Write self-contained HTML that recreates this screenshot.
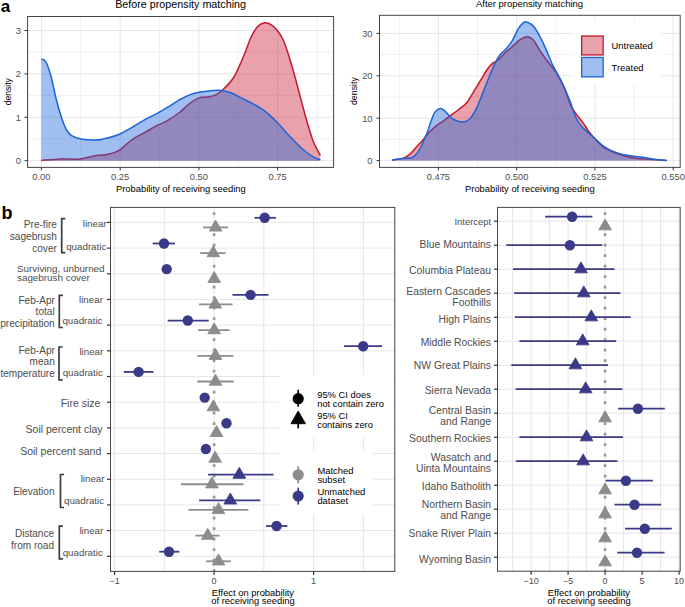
<!DOCTYPE html>
<html><head><meta charset="utf-8"><style>
html,body{margin:0;padding:0;background:#fff;}
svg{display:block;font-family:"Liberation Sans", sans-serif;}
</style></head><body>
<svg width="685" height="607" viewBox="0 0 685 607">
<rect width="685" height="607" fill="#fff"/>
<line x1="80.78" y1="16.50" x2="80.78" y2="167.40" stroke="#e6e6e6" stroke-width="0.6" />
<line x1="159.53" y1="16.50" x2="159.53" y2="167.40" stroke="#e6e6e6" stroke-width="0.6" />
<line x1="238.28" y1="16.50" x2="238.28" y2="167.40" stroke="#e6e6e6" stroke-width="0.6" />
<line x1="317.02" y1="16.50" x2="317.02" y2="167.40" stroke="#e6e6e6" stroke-width="0.6" />
<line x1="27.60" y1="139.00" x2="333.60" y2="139.00" stroke="#e6e6e6" stroke-width="0.6" />
<line x1="27.60" y1="95.60" x2="333.60" y2="95.60" stroke="#e6e6e6" stroke-width="0.6" />
<line x1="27.60" y1="52.20" x2="333.60" y2="52.20" stroke="#e6e6e6" stroke-width="0.6" />
<line x1="41.40" y1="16.50" x2="41.40" y2="167.40" stroke="#e6e6e6" stroke-width="1.0" />
<line x1="120.15" y1="16.50" x2="120.15" y2="167.40" stroke="#e6e6e6" stroke-width="1.0" />
<line x1="198.90" y1="16.50" x2="198.90" y2="167.40" stroke="#e6e6e6" stroke-width="1.0" />
<line x1="277.65" y1="16.50" x2="277.65" y2="167.40" stroke="#e6e6e6" stroke-width="1.0" />
<line x1="27.60" y1="160.70" x2="333.60" y2="160.70" stroke="#e6e6e6" stroke-width="1.0" />
<line x1="27.60" y1="117.30" x2="333.60" y2="117.30" stroke="#e6e6e6" stroke-width="1.0" />
<line x1="27.60" y1="73.90" x2="333.60" y2="73.90" stroke="#e6e6e6" stroke-width="1.0" />
<line x1="27.60" y1="30.50" x2="333.60" y2="30.50" stroke="#e6e6e6" stroke-width="1.0" />
<path d="M41.30,160.40 C44.53,160.15 54.48,159.10 60.70,158.90 C66.92,158.70 72.65,159.75 78.60,159.20 C84.55,158.65 91.30,156.45 96.40,155.60 C101.50,154.75 105.37,155.00 109.20,154.10 C113.03,153.20 115.57,152.63 119.40,150.20 C123.23,147.77 127.95,142.47 132.20,139.50 C136.45,136.53 140.65,134.78 144.90,132.40 C149.15,130.02 153.87,127.20 157.70,125.20 C161.53,123.20 164.18,122.60 167.90,120.40 C171.62,118.20 176.28,114.90 180.00,112.00 C183.72,109.10 187.02,105.35 190.20,103.00 C193.38,100.65 195.92,98.95 199.10,97.90 C202.28,96.85 206.53,97.20 209.30,96.70 C212.07,96.20 213.57,95.93 215.70,94.90 C217.83,93.87 219.12,93.40 222.10,90.50 C225.08,87.60 229.98,83.28 233.60,77.50 C237.22,71.72 240.98,62.30 243.80,55.80 C246.62,49.30 248.30,43.27 250.50,38.50 C252.70,33.73 254.67,29.82 257.00,27.20 C259.33,24.58 262.17,23.23 264.50,22.80 C266.83,22.37 268.83,23.27 271.00,24.60 C273.17,25.93 275.42,28.15 277.50,30.80 C279.58,33.45 281.58,36.22 283.50,40.50 C285.42,44.78 287.12,50.55 289.00,56.50 C290.88,62.45 292.13,66.53 294.80,76.20 C297.47,85.87 302.02,103.87 305.00,114.50 C307.98,125.13 310.15,133.20 312.70,140.00 C315.25,146.80 319.03,152.75 320.30,155.30 L320.30,160.70 L41.30,160.70 Z" fill="rgba(200,22,45,0.40)" stroke="none"/>
<path d="M41.30,160.40 C44.53,160.15 54.48,159.10 60.70,158.90 C66.92,158.70 72.65,159.75 78.60,159.20 C84.55,158.65 91.30,156.45 96.40,155.60 C101.50,154.75 105.37,155.00 109.20,154.10 C113.03,153.20 115.57,152.63 119.40,150.20 C123.23,147.77 127.95,142.47 132.20,139.50 C136.45,136.53 140.65,134.78 144.90,132.40 C149.15,130.02 153.87,127.20 157.70,125.20 C161.53,123.20 164.18,122.60 167.90,120.40 C171.62,118.20 176.28,114.90 180.00,112.00 C183.72,109.10 187.02,105.35 190.20,103.00 C193.38,100.65 195.92,98.95 199.10,97.90 C202.28,96.85 206.53,97.20 209.30,96.70 C212.07,96.20 213.57,95.93 215.70,94.90 C217.83,93.87 219.12,93.40 222.10,90.50 C225.08,87.60 229.98,83.28 233.60,77.50 C237.22,71.72 240.98,62.30 243.80,55.80 C246.62,49.30 248.30,43.27 250.50,38.50 C252.70,33.73 254.67,29.82 257.00,27.20 C259.33,24.58 262.17,23.23 264.50,22.80 C266.83,22.37 268.83,23.27 271.00,24.60 C273.17,25.93 275.42,28.15 277.50,30.80 C279.58,33.45 281.58,36.22 283.50,40.50 C285.42,44.78 287.12,50.55 289.00,56.50 C290.88,62.45 292.13,66.53 294.80,76.20 C297.47,85.87 302.02,103.87 305.00,114.50 C307.98,125.13 310.15,133.20 312.70,140.00 C315.25,146.80 319.03,152.75 320.30,155.30" fill="none" stroke="#c41a2e" stroke-width="1.5"/>
<path d="M41.30,59.70 C41.65,59.67 42.50,58.87 43.40,59.50 C44.30,60.13 45.43,60.72 46.70,63.50 C47.97,66.28 49.40,70.20 51.00,76.20 C52.60,82.20 54.55,92.60 56.30,99.50 C58.05,106.40 59.80,112.52 61.50,117.60 C63.20,122.68 64.75,126.97 66.50,130.00 C68.25,133.03 69.57,134.30 72.00,135.80 C74.43,137.30 77.03,138.30 81.10,139.00 C85.17,139.70 91.72,140.25 96.40,140.00 C101.08,139.75 105.37,138.47 109.20,137.50 C113.03,136.53 115.57,135.90 119.40,134.20 C123.23,132.50 127.95,129.73 132.20,127.30 C136.45,124.87 140.65,121.95 144.90,119.60 C149.15,117.25 153.45,115.53 157.70,113.20 C161.95,110.87 166.68,107.88 170.40,105.60 C174.12,103.32 176.70,101.33 180.00,99.50 C183.30,97.67 186.80,95.83 190.20,94.60 C193.60,93.37 196.57,92.78 200.40,92.10 C204.23,91.42 209.58,90.77 213.20,90.50 C216.82,90.23 219.13,90.12 222.10,90.50 C225.07,90.88 227.82,91.57 231.00,92.80 C234.18,94.03 237.80,96.20 241.20,97.90 C244.60,99.60 247.57,100.87 251.40,103.00 C255.23,105.13 259.93,107.50 264.20,110.70 C268.47,113.90 272.75,117.95 277.00,122.20 C281.25,126.45 285.45,131.73 289.70,136.20 C293.95,140.67 298.67,145.60 302.50,149.00 C306.33,152.40 309.73,154.82 312.70,156.60 C315.67,158.38 319.03,159.18 320.30,159.70 L320.30,160.70 L41.30,160.70 Z" fill="rgba(28,100,216,0.42)" stroke="none"/>
<path d="M41.30,59.70 C41.65,59.67 42.50,58.87 43.40,59.50 C44.30,60.13 45.43,60.72 46.70,63.50 C47.97,66.28 49.40,70.20 51.00,76.20 C52.60,82.20 54.55,92.60 56.30,99.50 C58.05,106.40 59.80,112.52 61.50,117.60 C63.20,122.68 64.75,126.97 66.50,130.00 C68.25,133.03 69.57,134.30 72.00,135.80 C74.43,137.30 77.03,138.30 81.10,139.00 C85.17,139.70 91.72,140.25 96.40,140.00 C101.08,139.75 105.37,138.47 109.20,137.50 C113.03,136.53 115.57,135.90 119.40,134.20 C123.23,132.50 127.95,129.73 132.20,127.30 C136.45,124.87 140.65,121.95 144.90,119.60 C149.15,117.25 153.45,115.53 157.70,113.20 C161.95,110.87 166.68,107.88 170.40,105.60 C174.12,103.32 176.70,101.33 180.00,99.50 C183.30,97.67 186.80,95.83 190.20,94.60 C193.60,93.37 196.57,92.78 200.40,92.10 C204.23,91.42 209.58,90.77 213.20,90.50 C216.82,90.23 219.13,90.12 222.10,90.50 C225.07,90.88 227.82,91.57 231.00,92.80 C234.18,94.03 237.80,96.20 241.20,97.90 C244.60,99.60 247.57,100.87 251.40,103.00 C255.23,105.13 259.93,107.50 264.20,110.70 C268.47,113.90 272.75,117.95 277.00,122.20 C281.25,126.45 285.45,131.73 289.70,136.20 C293.95,140.67 298.67,145.60 302.50,149.00 C306.33,152.40 309.73,154.82 312.70,156.60 C315.67,158.38 319.03,159.18 320.30,159.70" fill="none" stroke="#1c64d8" stroke-width="1.5"/>
<rect x="27.6" y="16.5" width="306.0" height="150.9" fill="none" stroke="#444444" stroke-width="1"/>
<line x1="24.50" y1="160.70" x2="27.60" y2="160.70" stroke="#333333" stroke-width="1" />
<text x="21.00" y="164.00" font-size="9.3" text-anchor="end" fill="#4d4d4d" font-weight="normal" >0</text>
<line x1="24.50" y1="117.30" x2="27.60" y2="117.30" stroke="#333333" stroke-width="1" />
<text x="21.00" y="120.60" font-size="9.3" text-anchor="end" fill="#4d4d4d" font-weight="normal" >1</text>
<line x1="24.50" y1="73.90" x2="27.60" y2="73.90" stroke="#333333" stroke-width="1" />
<text x="21.00" y="77.20" font-size="9.3" text-anchor="end" fill="#4d4d4d" font-weight="normal" >2</text>
<line x1="24.50" y1="30.50" x2="27.60" y2="30.50" stroke="#333333" stroke-width="1" />
<text x="21.00" y="33.80" font-size="9.3" text-anchor="end" fill="#4d4d4d" font-weight="normal" >3</text>
<line x1="41.40" y1="167.40" x2="41.40" y2="170.40" stroke="#333333" stroke-width="1" />
<text x="41.40" y="180.20" font-size="9.3" text-anchor="middle" fill="#4d4d4d" font-weight="normal" >0.00</text>
<line x1="120.15" y1="167.40" x2="120.15" y2="170.40" stroke="#333333" stroke-width="1" />
<text x="120.15" y="180.20" font-size="9.3" text-anchor="middle" fill="#4d4d4d" font-weight="normal" >0.25</text>
<line x1="198.90" y1="167.40" x2="198.90" y2="170.40" stroke="#333333" stroke-width="1" />
<text x="198.90" y="180.20" font-size="9.3" text-anchor="middle" fill="#4d4d4d" font-weight="normal" >0.50</text>
<line x1="277.65" y1="167.40" x2="277.65" y2="170.40" stroke="#333333" stroke-width="1" />
<text x="277.65" y="180.20" font-size="9.3" text-anchor="middle" fill="#4d4d4d" font-weight="normal" >0.75</text>
<text x="180.80" y="191.90" font-size="9.4" text-anchor="middle" fill="#000" font-weight="normal" >Probability of receiving seeding</text>
<text x="10.60" y="91.70" font-size="8.6" text-anchor="middle" fill="#000" font-weight="normal" transform="rotate(-90 10.6 91.7)">density</text>
<text x="180.60" y="7.90" font-size="10.75" text-anchor="middle" fill="#000" font-weight="normal" >Before propensity matching</text>
<line x1="399.27" y1="15.30" x2="399.27" y2="167.40" stroke="#e6e6e6" stroke-width="0.6" />
<line x1="477.54" y1="15.30" x2="477.54" y2="167.40" stroke="#e6e6e6" stroke-width="0.6" />
<line x1="555.80" y1="15.30" x2="555.80" y2="167.40" stroke="#e6e6e6" stroke-width="0.6" />
<line x1="634.07" y1="15.30" x2="634.07" y2="167.40" stroke="#e6e6e6" stroke-width="0.6" />
<line x1="379.50" y1="139.40" x2="680.20" y2="139.40" stroke="#e6e6e6" stroke-width="0.6" />
<line x1="379.50" y1="97.00" x2="680.20" y2="97.00" stroke="#e6e6e6" stroke-width="0.6" />
<line x1="379.50" y1="54.60" x2="680.20" y2="54.60" stroke="#e6e6e6" stroke-width="0.6" />
<line x1="438.40" y1="15.30" x2="438.40" y2="167.40" stroke="#e6e6e6" stroke-width="1.0" />
<line x1="516.67" y1="15.30" x2="516.67" y2="167.40" stroke="#e6e6e6" stroke-width="1.0" />
<line x1="594.94" y1="15.30" x2="594.94" y2="167.40" stroke="#e6e6e6" stroke-width="1.0" />
<line x1="673.21" y1="15.30" x2="673.21" y2="167.40" stroke="#e6e6e6" stroke-width="1.0" />
<line x1="379.50" y1="160.60" x2="680.20" y2="160.60" stroke="#e6e6e6" stroke-width="1.0" />
<line x1="379.50" y1="118.20" x2="680.20" y2="118.20" stroke="#e6e6e6" stroke-width="1.0" />
<line x1="379.50" y1="75.80" x2="680.20" y2="75.80" stroke="#e6e6e6" stroke-width="1.0" />
<line x1="379.50" y1="33.40" x2="680.20" y2="33.40" stroke="#e6e6e6" stroke-width="1.0" />
<path d="M392.20,160.10 C394.07,159.77 400.43,159.10 403.40,158.10 C406.37,157.10 407.82,155.97 410.00,154.10 C412.18,152.23 414.32,149.30 416.50,146.90 C418.68,144.50 420.90,142.22 423.10,139.70 C425.30,137.18 427.52,134.10 429.70,131.80 C431.88,129.50 434.02,127.65 436.20,125.90 C438.38,124.15 440.38,123.05 442.80,121.30 C445.22,119.55 448.07,117.37 450.70,115.40 C453.33,113.43 455.97,111.58 458.60,109.50 C461.23,107.42 464.13,105.63 466.50,102.90 C468.87,100.17 470.43,96.88 472.80,93.10 C475.17,89.32 478.40,84.00 480.70,80.20 C483.00,76.40 484.63,73.10 486.60,70.30 C488.57,67.50 490.68,65.03 492.50,63.40 C494.32,61.77 495.52,62.15 497.50,60.50 C499.48,58.85 501.93,55.82 504.40,53.50 C506.87,51.18 509.67,48.90 512.30,46.60 C514.93,44.30 517.73,41.35 520.20,39.70 C522.67,38.05 524.95,36.70 527.10,36.70 C529.25,36.70 530.95,37.38 533.10,39.70 C535.25,42.02 537.48,46.83 540.00,50.60 C542.52,54.37 545.48,58.65 548.20,62.30 C550.92,65.95 553.58,68.08 556.30,72.50 C559.02,76.92 562.10,83.35 564.50,88.80 C566.90,94.25 568.82,101.10 570.70,105.20 C572.58,109.30 573.77,110.50 575.80,113.40 C577.83,116.30 580.70,119.55 582.90,122.60 C585.10,125.65 586.95,128.98 589.00,131.70 C591.05,134.42 592.80,136.33 595.20,138.90 C597.60,141.47 600.33,144.88 603.40,147.10 C606.47,149.32 609.87,150.67 613.60,152.20 C617.33,153.73 622.05,155.28 625.80,156.30 C629.55,157.32 632.35,157.80 636.10,158.30 C639.85,158.80 643.20,158.95 648.30,159.30 C653.40,159.65 663.63,160.22 666.70,160.40 L666.70,160.60 L392.20,160.60 Z" fill="rgba(200,22,45,0.40)" stroke="none"/>
<path d="M392.20,160.10 C394.07,159.77 400.43,159.10 403.40,158.10 C406.37,157.10 407.82,155.97 410.00,154.10 C412.18,152.23 414.32,149.30 416.50,146.90 C418.68,144.50 420.90,142.22 423.10,139.70 C425.30,137.18 427.52,134.10 429.70,131.80 C431.88,129.50 434.02,127.65 436.20,125.90 C438.38,124.15 440.38,123.05 442.80,121.30 C445.22,119.55 448.07,117.37 450.70,115.40 C453.33,113.43 455.97,111.58 458.60,109.50 C461.23,107.42 464.13,105.63 466.50,102.90 C468.87,100.17 470.43,96.88 472.80,93.10 C475.17,89.32 478.40,84.00 480.70,80.20 C483.00,76.40 484.63,73.10 486.60,70.30 C488.57,67.50 490.68,65.03 492.50,63.40 C494.32,61.77 495.52,62.15 497.50,60.50 C499.48,58.85 501.93,55.82 504.40,53.50 C506.87,51.18 509.67,48.90 512.30,46.60 C514.93,44.30 517.73,41.35 520.20,39.70 C522.67,38.05 524.95,36.70 527.10,36.70 C529.25,36.70 530.95,37.38 533.10,39.70 C535.25,42.02 537.48,46.83 540.00,50.60 C542.52,54.37 545.48,58.65 548.20,62.30 C550.92,65.95 553.58,68.08 556.30,72.50 C559.02,76.92 562.10,83.35 564.50,88.80 C566.90,94.25 568.82,101.10 570.70,105.20 C572.58,109.30 573.77,110.50 575.80,113.40 C577.83,116.30 580.70,119.55 582.90,122.60 C585.10,125.65 586.95,128.98 589.00,131.70 C591.05,134.42 592.80,136.33 595.20,138.90 C597.60,141.47 600.33,144.88 603.40,147.10 C606.47,149.32 609.87,150.67 613.60,152.20 C617.33,153.73 622.05,155.28 625.80,156.30 C629.55,157.32 632.35,157.80 636.10,158.30 C639.85,158.80 643.20,158.95 648.30,159.30 C653.40,159.65 663.63,160.22 666.70,160.40" fill="none" stroke="#c41a2e" stroke-width="1.5"/>
<path d="M392.20,160.10 C393.18,159.93 396.02,159.40 398.10,159.10 C400.18,158.80 402.50,158.52 404.70,158.30 C406.90,158.08 409.55,158.28 411.30,157.80 C413.05,157.32 413.88,156.67 415.20,155.40 C416.52,154.13 417.88,152.38 419.20,150.20 C420.52,148.02 421.80,145.15 423.10,142.30 C424.40,139.45 425.68,136.60 427.00,133.10 C428.32,129.60 429.68,124.80 431.00,121.30 C432.32,117.80 433.37,114.25 434.90,112.10 C436.43,109.95 438.55,108.62 440.20,108.40 C441.85,108.18 443.27,109.53 444.80,110.80 C446.33,112.07 447.77,114.47 449.40,116.00 C451.03,117.53 452.63,119.02 454.60,120.00 C456.57,120.98 459.22,121.68 461.20,121.90 C463.18,122.12 464.90,121.98 466.50,121.30 C468.10,120.62 469.10,120.03 470.80,117.80 C472.50,115.57 474.72,112.02 476.70,107.90 C478.68,103.78 480.72,98.05 482.70,93.10 C484.68,88.15 486.63,82.98 488.60,78.20 C490.57,73.42 492.68,68.18 494.50,64.40 C496.32,60.62 497.52,58.13 499.50,55.50 C501.48,52.87 504.27,51.07 506.40,48.60 C508.53,46.13 510.33,44.00 512.30,40.70 C514.27,37.40 516.38,31.77 518.20,28.80 C520.02,25.83 521.82,24.05 523.20,22.90 C524.58,21.75 525.02,21.57 526.50,21.90 C527.98,22.23 530.18,23.08 532.10,24.90 C534.02,26.72 536.03,29.52 538.00,32.80 C539.97,36.08 541.92,40.32 543.90,44.60 C545.88,48.88 548.50,55.22 549.90,58.50 C551.30,61.78 550.88,61.47 552.30,64.30 C553.72,67.13 556.37,71.58 558.40,75.50 C560.43,79.42 562.45,83.20 564.50,87.80 C566.55,92.40 568.65,97.82 570.70,103.10 C572.75,108.38 574.77,115.40 576.80,119.50 C578.83,123.60 580.87,125.38 582.90,127.70 C584.93,130.02 586.95,131.53 589.00,133.40 C591.05,135.27 592.80,136.78 595.20,138.90 C597.60,141.02 600.68,144.15 603.40,146.10 C606.12,148.05 608.45,149.25 611.50,150.60 C614.55,151.95 617.95,153.25 621.70,154.20 C625.45,155.15 630.58,155.78 634.00,156.30 C637.42,156.82 638.80,156.80 642.20,157.30 C645.60,157.80 650.32,158.78 654.40,159.30 C658.48,159.82 664.65,160.22 666.70,160.40 L666.70,160.60 L392.20,160.60 Z" fill="rgba(28,100,216,0.42)" stroke="none"/>
<path d="M392.20,160.10 C393.18,159.93 396.02,159.40 398.10,159.10 C400.18,158.80 402.50,158.52 404.70,158.30 C406.90,158.08 409.55,158.28 411.30,157.80 C413.05,157.32 413.88,156.67 415.20,155.40 C416.52,154.13 417.88,152.38 419.20,150.20 C420.52,148.02 421.80,145.15 423.10,142.30 C424.40,139.45 425.68,136.60 427.00,133.10 C428.32,129.60 429.68,124.80 431.00,121.30 C432.32,117.80 433.37,114.25 434.90,112.10 C436.43,109.95 438.55,108.62 440.20,108.40 C441.85,108.18 443.27,109.53 444.80,110.80 C446.33,112.07 447.77,114.47 449.40,116.00 C451.03,117.53 452.63,119.02 454.60,120.00 C456.57,120.98 459.22,121.68 461.20,121.90 C463.18,122.12 464.90,121.98 466.50,121.30 C468.10,120.62 469.10,120.03 470.80,117.80 C472.50,115.57 474.72,112.02 476.70,107.90 C478.68,103.78 480.72,98.05 482.70,93.10 C484.68,88.15 486.63,82.98 488.60,78.20 C490.57,73.42 492.68,68.18 494.50,64.40 C496.32,60.62 497.52,58.13 499.50,55.50 C501.48,52.87 504.27,51.07 506.40,48.60 C508.53,46.13 510.33,44.00 512.30,40.70 C514.27,37.40 516.38,31.77 518.20,28.80 C520.02,25.83 521.82,24.05 523.20,22.90 C524.58,21.75 525.02,21.57 526.50,21.90 C527.98,22.23 530.18,23.08 532.10,24.90 C534.02,26.72 536.03,29.52 538.00,32.80 C539.97,36.08 541.92,40.32 543.90,44.60 C545.88,48.88 548.50,55.22 549.90,58.50 C551.30,61.78 550.88,61.47 552.30,64.30 C553.72,67.13 556.37,71.58 558.40,75.50 C560.43,79.42 562.45,83.20 564.50,87.80 C566.55,92.40 568.65,97.82 570.70,103.10 C572.75,108.38 574.77,115.40 576.80,119.50 C578.83,123.60 580.87,125.38 582.90,127.70 C584.93,130.02 586.95,131.53 589.00,133.40 C591.05,135.27 592.80,136.78 595.20,138.90 C597.60,141.02 600.68,144.15 603.40,146.10 C606.12,148.05 608.45,149.25 611.50,150.60 C614.55,151.95 617.95,153.25 621.70,154.20 C625.45,155.15 630.58,155.78 634.00,156.30 C637.42,156.82 638.80,156.80 642.20,157.30 C645.60,157.80 650.32,158.78 654.40,159.30 C658.48,159.82 664.65,160.22 666.70,160.40" fill="none" stroke="#1c64d8" stroke-width="1.5"/>
<rect x="573.1" y="21.4" width="88.2" height="63.1" fill="#fff"/>
<rect x="581.65" y="36.05" width="21.5" height="18.9" fill="rgba(200,22,45,0.40)" stroke="#c41a2e" stroke-width="1.3"/>
<rect x="581.65" y="57.45" width="21.5" height="19.4" fill="rgba(28,100,216,0.42)" stroke="#1c64d8" stroke-width="1.3"/>
<text x="611.60" y="49.40" font-size="9.4" text-anchor="start" fill="#000" font-weight="normal" >Untreated</text>
<text x="611.60" y="70.80" font-size="9.4" text-anchor="start" fill="#000" font-weight="normal" >Treated</text>
<rect x="379.5" y="15.3" width="300.70000000000005" height="152.1" fill="none" stroke="#444444" stroke-width="1"/>
<line x1="376.50" y1="160.60" x2="379.50" y2="160.60" stroke="#333333" stroke-width="1" />
<text x="372.50" y="163.90" font-size="9.3" text-anchor="end" fill="#4d4d4d" font-weight="normal" >0</text>
<line x1="376.50" y1="118.20" x2="379.50" y2="118.20" stroke="#333333" stroke-width="1" />
<text x="372.50" y="121.50" font-size="9.3" text-anchor="end" fill="#4d4d4d" font-weight="normal" >10</text>
<line x1="376.50" y1="75.80" x2="379.50" y2="75.80" stroke="#333333" stroke-width="1" />
<text x="372.50" y="79.10" font-size="9.3" text-anchor="end" fill="#4d4d4d" font-weight="normal" >20</text>
<line x1="376.50" y1="33.40" x2="379.50" y2="33.40" stroke="#333333" stroke-width="1" />
<text x="372.50" y="36.70" font-size="9.3" text-anchor="end" fill="#4d4d4d" font-weight="normal" >30</text>
<line x1="438.40" y1="167.40" x2="438.40" y2="170.40" stroke="#333333" stroke-width="1" />
<text x="438.40" y="180.20" font-size="9.3" text-anchor="middle" fill="#4d4d4d" font-weight="normal" >0.475</text>
<line x1="516.67" y1="167.40" x2="516.67" y2="170.40" stroke="#333333" stroke-width="1" />
<text x="516.67" y="180.20" font-size="9.3" text-anchor="middle" fill="#4d4d4d" font-weight="normal" >0.500</text>
<line x1="594.94" y1="167.40" x2="594.94" y2="170.40" stroke="#333333" stroke-width="1" />
<text x="594.94" y="180.20" font-size="9.3" text-anchor="middle" fill="#4d4d4d" font-weight="normal" >0.525</text>
<line x1="673.21" y1="167.40" x2="673.21" y2="170.40" stroke="#333333" stroke-width="1" />
<text x="673.21" y="180.20" font-size="9.3" text-anchor="middle" fill="#4d4d4d" font-weight="normal" >0.550</text>
<text x="529.90" y="191.90" font-size="9.4" text-anchor="middle" fill="#000" font-weight="normal" >Probability of receiving seeding</text>
<text x="357.00" y="91.10" font-size="8.8" text-anchor="middle" fill="#000" font-weight="normal" transform="rotate(-90 357.0 91.1)">density</text>
<text x="529.50" y="7.30" font-size="9.45" text-anchor="middle" fill="#000" font-weight="normal" >After propensity matching</text>
<text x="0.70" y="11.90" font-size="17" text-anchor="start" fill="#000" font-weight="bold" >a</text>
<text x="1.60" y="219.10" font-size="18" text-anchor="start" fill="#000" font-weight="bold" >b</text>
<line x1="114.60" y1="207.40" x2="114.60" y2="571.40" stroke="#e6e6e6" stroke-width="1.0" />
<line x1="164.35" y1="207.40" x2="164.35" y2="571.40" stroke="#e6e6e6" stroke-width="1.0" />
<line x1="214.10" y1="207.40" x2="214.10" y2="571.40" stroke="#e6e6e6" stroke-width="1.0" />
<line x1="263.85" y1="207.40" x2="263.85" y2="571.40" stroke="#e6e6e6" stroke-width="1.0" />
<line x1="313.60" y1="207.40" x2="313.60" y2="571.40" stroke="#e6e6e6" stroke-width="1.0" />
<line x1="363.35" y1="207.40" x2="363.35" y2="571.40" stroke="#e6e6e6" stroke-width="1.0" />
<line x1="110.50" y1="222.40" x2="394.80" y2="222.40" stroke="#e6e6e6" stroke-width="1.0" />
<line x1="110.50" y1="248.09" x2="394.80" y2="248.09" stroke="#e6e6e6" stroke-width="1.0" />
<line x1="110.50" y1="273.77" x2="394.80" y2="273.77" stroke="#e6e6e6" stroke-width="1.0" />
<line x1="110.50" y1="299.45" x2="394.80" y2="299.45" stroke="#e6e6e6" stroke-width="1.0" />
<line x1="110.50" y1="325.14" x2="394.80" y2="325.14" stroke="#e6e6e6" stroke-width="1.0" />
<line x1="110.50" y1="350.82" x2="394.80" y2="350.82" stroke="#e6e6e6" stroke-width="1.0" />
<line x1="110.50" y1="376.51" x2="394.80" y2="376.51" stroke="#e6e6e6" stroke-width="1.0" />
<line x1="110.50" y1="402.19" x2="394.80" y2="402.19" stroke="#e6e6e6" stroke-width="1.0" />
<line x1="110.50" y1="427.88" x2="394.80" y2="427.88" stroke="#e6e6e6" stroke-width="1.0" />
<line x1="110.50" y1="453.56" x2="394.80" y2="453.56" stroke="#e6e6e6" stroke-width="1.0" />
<line x1="110.50" y1="479.25" x2="394.80" y2="479.25" stroke="#e6e6e6" stroke-width="1.0" />
<line x1="110.50" y1="504.93" x2="394.80" y2="504.93" stroke="#e6e6e6" stroke-width="1.0" />
<line x1="110.50" y1="530.62" x2="394.80" y2="530.62" stroke="#e6e6e6" stroke-width="1.0" />
<line x1="110.50" y1="556.30" x2="394.80" y2="556.30" stroke="#e6e6e6" stroke-width="1.0" />
<rect x="279" y="374.6" width="114" height="63.1" fill="#fff"/>
<rect x="279" y="450.4" width="94" height="63.4" fill="#fff"/>
<line x1="214.10" y1="207.40" x2="214.10" y2="571.40" stroke="#999" stroke-width="2.7" stroke-dasharray="2.6 7.9" stroke-dashoffset="5.6"/>
<line x1="203.10" y1="227.40" x2="228.20" y2="227.40" stroke="#8c8c8c" stroke-width="1.8" />
<polygon points="215.60,220.09 221.93,231.05 209.27,231.05" fill="#8c8c8c" stroke="#8c8c8c" stroke-width="0.9" stroke-linejoin="round"/>
<line x1="254.50" y1="217.80" x2="275.90" y2="217.80" stroke="#3a3a88" stroke-width="1.8" />
<circle cx="264.70" cy="217.80" r="5.2" fill="#3a3a88"/>
<line x1="200.20" y1="253.09" x2="225.50" y2="253.09" stroke="#8c8c8c" stroke-width="1.8" />
<polygon points="213.30,245.78 219.63,256.74 206.97,256.74" fill="#8c8c8c" stroke="#8c8c8c" stroke-width="0.9" stroke-linejoin="round"/>
<line x1="152.60" y1="243.49" x2="174.90" y2="243.49" stroke="#3a3a88" stroke-width="1.8" />
<circle cx="164.00" cy="243.49" r="5.2" fill="#3a3a88"/>
<polygon points="214.20,271.46 220.53,282.42 207.87,282.42" fill="#8c8c8c" stroke="#8c8c8c" stroke-width="0.9" stroke-linejoin="round"/>
<circle cx="166.70" cy="269.17" r="5.2" fill="#3a3a88"/>
<line x1="199.10" y1="304.45" x2="232.60" y2="304.45" stroke="#8c8c8c" stroke-width="1.8" />
<polygon points="215.20,297.15 221.53,308.11 208.87,308.11" fill="#8c8c8c" stroke="#8c8c8c" stroke-width="0.9" stroke-linejoin="round"/>
<line x1="232.50" y1="294.85" x2="268.50" y2="294.85" stroke="#3a3a88" stroke-width="1.8" />
<circle cx="250.60" cy="294.85" r="5.2" fill="#3a3a88"/>
<line x1="198.10" y1="330.14" x2="229.60" y2="330.14" stroke="#8c8c8c" stroke-width="1.8" />
<polygon points="214.20,322.83 220.53,333.79 207.87,333.79" fill="#8c8c8c" stroke="#8c8c8c" stroke-width="0.9" stroke-linejoin="round"/>
<line x1="167.70" y1="320.54" x2="208.70" y2="320.54" stroke="#3a3a88" stroke-width="1.8" />
<circle cx="187.80" cy="320.54" r="5.2" fill="#3a3a88"/>
<line x1="197.30" y1="355.82" x2="233.30" y2="355.82" stroke="#8c8c8c" stroke-width="1.8" />
<polygon points="215.50,348.52 221.83,359.48 209.17,359.48" fill="#8c8c8c" stroke="#8c8c8c" stroke-width="0.9" stroke-linejoin="round"/>
<line x1="344.00" y1="346.22" x2="382.00" y2="346.22" stroke="#3a3a88" stroke-width="1.8" />
<circle cx="363.20" cy="346.22" r="5.2" fill="#3a3a88"/>
<line x1="197.30" y1="381.51" x2="233.80" y2="381.51" stroke="#8c8c8c" stroke-width="1.8" />
<polygon points="215.50,374.20 221.83,385.16 209.17,385.16" fill="#8c8c8c" stroke="#8c8c8c" stroke-width="0.9" stroke-linejoin="round"/>
<line x1="123.80" y1="371.91" x2="153.50" y2="371.91" stroke="#3a3a88" stroke-width="1.8" />
<circle cx="138.60" cy="371.91" r="5.2" fill="#3a3a88"/>
<polygon points="213.40,399.89 219.73,410.85 207.07,410.85" fill="#8c8c8c" stroke="#8c8c8c" stroke-width="0.9" stroke-linejoin="round"/>
<circle cx="204.70" cy="397.59" r="5.2" fill="#3a3a88"/>
<polygon points="216.50,425.57 222.83,436.53 210.17,436.53" fill="#8c8c8c" stroke="#8c8c8c" stroke-width="0.9" stroke-linejoin="round"/>
<circle cx="226.50" cy="423.28" r="5.2" fill="#3a3a88"/>
<polygon points="215.20,451.26 221.53,462.22 208.87,462.22" fill="#8c8c8c" stroke="#8c8c8c" stroke-width="0.9" stroke-linejoin="round"/>
<circle cx="205.90" cy="448.96" r="5.2" fill="#3a3a88"/>
<line x1="181.00" y1="484.25" x2="243.40" y2="484.25" stroke="#8c8c8c" stroke-width="1.8" />
<polygon points="211.90,476.94 218.23,487.90 205.57,487.90" fill="#8c8c8c" stroke="#8c8c8c" stroke-width="0.9" stroke-linejoin="round"/>
<line x1="208.10" y1="474.65" x2="273.50" y2="474.65" stroke="#3a3a88" stroke-width="1.8" />
<polygon points="239.30,467.34 245.63,478.30 232.97,478.30" fill="#3a3a88" stroke="#3a3a88" stroke-width="0.9" stroke-linejoin="round"/>
<line x1="188.50" y1="509.93" x2="248.40" y2="509.93" stroke="#8c8c8c" stroke-width="1.8" />
<polygon points="218.50,502.63 224.83,513.59 212.17,513.59" fill="#8c8c8c" stroke="#8c8c8c" stroke-width="0.9" stroke-linejoin="round"/>
<line x1="199.10" y1="500.33" x2="260.40" y2="500.33" stroke="#3a3a88" stroke-width="1.8" />
<polygon points="230.30,493.03 236.63,503.99 223.97,503.99" fill="#3a3a88" stroke="#3a3a88" stroke-width="0.9" stroke-linejoin="round"/>
<line x1="195.30" y1="535.62" x2="219.50" y2="535.62" stroke="#8c8c8c" stroke-width="1.8" />
<polygon points="207.70,528.31 214.03,539.27 201.37,539.27" fill="#8c8c8c" stroke="#8c8c8c" stroke-width="0.9" stroke-linejoin="round"/>
<line x1="266.00" y1="526.02" x2="287.40" y2="526.02" stroke="#3a3a88" stroke-width="1.8" />
<circle cx="276.60" cy="526.02" r="5.2" fill="#3a3a88"/>
<line x1="206.10" y1="561.30" x2="230.80" y2="561.30" stroke="#8c8c8c" stroke-width="1.8" />
<polygon points="218.50,554.00 224.83,564.96 212.17,564.96" fill="#8c8c8c" stroke="#8c8c8c" stroke-width="0.9" stroke-linejoin="round"/>
<line x1="159.20" y1="551.70" x2="179.40" y2="551.70" stroke="#3a3a88" stroke-width="1.8" />
<circle cx="169.00" cy="551.70" r="5.2" fill="#3a3a88"/>
<rect x="110.5" y="207.4" width="284.3" height="364.0" fill="none" stroke="#444444" stroke-width="1"/>
<line x1="107.00" y1="222.40" x2="110.50" y2="222.40" stroke="#333333" stroke-width="1.2" />
<line x1="107.00" y1="248.09" x2="110.50" y2="248.09" stroke="#333333" stroke-width="1.2" />
<line x1="107.00" y1="273.77" x2="110.50" y2="273.77" stroke="#333333" stroke-width="1.2" />
<line x1="107.00" y1="299.45" x2="110.50" y2="299.45" stroke="#333333" stroke-width="1.2" />
<line x1="107.00" y1="325.14" x2="110.50" y2="325.14" stroke="#333333" stroke-width="1.2" />
<line x1="107.00" y1="350.82" x2="110.50" y2="350.82" stroke="#333333" stroke-width="1.2" />
<line x1="107.00" y1="376.51" x2="110.50" y2="376.51" stroke="#333333" stroke-width="1.2" />
<line x1="107.00" y1="402.19" x2="110.50" y2="402.19" stroke="#333333" stroke-width="1.2" />
<line x1="107.00" y1="427.88" x2="110.50" y2="427.88" stroke="#333333" stroke-width="1.2" />
<line x1="107.00" y1="453.56" x2="110.50" y2="453.56" stroke="#333333" stroke-width="1.2" />
<line x1="107.00" y1="479.25" x2="110.50" y2="479.25" stroke="#333333" stroke-width="1.2" />
<line x1="107.00" y1="504.93" x2="110.50" y2="504.93" stroke="#333333" stroke-width="1.2" />
<line x1="107.00" y1="530.62" x2="110.50" y2="530.62" stroke="#333333" stroke-width="1.2" />
<line x1="107.00" y1="556.30" x2="110.50" y2="556.30" stroke="#333333" stroke-width="1.2" />
<line x1="114.60" y1="571.40" x2="114.60" y2="574.90" stroke="#333333" stroke-width="1.2" />
<text x="114.60" y="584.40" font-size="9.0" text-anchor="middle" fill="#4d4d4d" font-weight="normal" >−1</text>
<line x1="214.10" y1="571.40" x2="214.10" y2="574.90" stroke="#333333" stroke-width="1.2" />
<text x="214.10" y="584.40" font-size="9.0" text-anchor="middle" fill="#4d4d4d" font-weight="normal" >0</text>
<line x1="313.60" y1="571.40" x2="313.60" y2="574.90" stroke="#333333" stroke-width="1.2" />
<text x="313.60" y="584.40" font-size="9.0" text-anchor="middle" fill="#4d4d4d" font-weight="normal" >1</text>
<text x="252.95" y="595.60" font-size="9.4" text-anchor="middle" fill="#000" font-weight="normal" >Effect on probability</text>
<text x="252.95" y="604.40" font-size="9.4" text-anchor="middle" fill="#000" font-weight="normal" >of receiving seeding</text>
<line x1="298.20" y1="389.80" x2="298.20" y2="406.70" stroke="#000" stroke-width="1.7" />
<circle cx="298.20" cy="398.70" r="5.6" fill="#000"/>
<line x1="298.20" y1="411.80" x2="298.20" y2="428.40" stroke="#000" stroke-width="1.7" />
<polygon points="298.20,411.10 305.47,423.70 290.93,423.70" fill="#000" stroke="#000" stroke-width="0.9" stroke-linejoin="round"/>
<text x="317.20" y="397.50" font-size="9.4" text-anchor="start" fill="#000" font-weight="normal" >95% CI does</text>
<text x="317.20" y="406.70" font-size="9.4" text-anchor="start" fill="#000" font-weight="normal" >not contain zero</text>
<text x="317.20" y="418.70" font-size="9.4" text-anchor="start" fill="#000" font-weight="normal" >95% CI</text>
<text x="317.20" y="427.60" font-size="9.4" text-anchor="start" fill="#000" font-weight="normal" >contains zero</text>
<line x1="298.20" y1="466.40" x2="298.20" y2="483.30" stroke="#8c8c8c" stroke-width="1.7" />
<circle cx="298.20" cy="474.80" r="5.6" fill="#8c8c8c"/>
<line x1="298.20" y1="487.60" x2="298.20" y2="504.60" stroke="#3a3a88" stroke-width="1.7" />
<circle cx="298.20" cy="496.10" r="5.6" fill="#3a3a88"/>
<text x="317.40" y="473.70" font-size="9.4" text-anchor="start" fill="#000" font-weight="normal" >Matched</text>
<text x="317.40" y="482.50" font-size="9.4" text-anchor="start" fill="#000" font-weight="normal" >subset</text>
<text x="317.40" y="495.00" font-size="9.4" text-anchor="start" fill="#000" font-weight="normal" >Unmatched</text>
<text x="317.40" y="503.70" font-size="9.4" text-anchor="start" fill="#000" font-weight="normal" >dataset</text>
<text x="56.90" y="227.60" font-size="10.1" text-anchor="end" fill="#4d4d4d" font-weight="normal" >Pre-fire</text>
<text x="56.90" y="239.60" font-size="10.1" text-anchor="end" fill="#4d4d4d" font-weight="normal" >sagebrush</text>
<text x="56.90" y="251.50" font-size="10.1" text-anchor="end" fill="#4d4d4d" font-weight="normal" >cover</text>
<text x="106.60" y="227.30" font-size="9.75" text-anchor="end" fill="#4d4d4d" font-weight="normal" >linear</text>
<text x="106.30" y="249.80" font-size="9.75" text-anchor="end" fill="#4d4d4d" font-weight="normal" >quadratic</text>
<text x="17.00" y="272.20" font-size="9.85" text-anchor="start" fill="#4d4d4d" font-weight="normal" >Surviving, unburned</text>
<text x="17.00" y="280.80" font-size="9.85" text-anchor="start" fill="#4d4d4d" font-weight="normal" >sagebrush cover</text>
<text x="54.90" y="303.50" font-size="10.1" text-anchor="end" fill="#4d4d4d" font-weight="normal" >Feb-Apr</text>
<text x="54.70" y="314.80" font-size="10.1" text-anchor="end" fill="#4d4d4d" font-weight="normal" >total</text>
<text x="54.70" y="326.70" font-size="10.1" text-anchor="end" fill="#4d4d4d" font-weight="normal" >precipitation</text>
<text x="102.90" y="303.00" font-size="9.75" text-anchor="end" fill="#4d4d4d" font-weight="normal" >linear</text>
<text x="102.50" y="324.40" font-size="9.75" text-anchor="end" fill="#4d4d4d" font-weight="normal" >quadratic</text>
<text x="54.90" y="353.50" font-size="10.1" text-anchor="end" fill="#4d4d4d" font-weight="normal" >Feb-Apr</text>
<text x="54.80" y="364.70" font-size="10.1" text-anchor="end" fill="#4d4d4d" font-weight="normal" >mean</text>
<text x="54.80" y="376.60" font-size="10.1" text-anchor="end" fill="#4d4d4d" font-weight="normal" >temperature</text>
<text x="103.30" y="354.70" font-size="9.75" text-anchor="end" fill="#4d4d4d" font-weight="normal" >linear</text>
<text x="102.80" y="376.10" font-size="9.75" text-anchor="end" fill="#4d4d4d" font-weight="normal" >quadratic</text>
<text x="100.40" y="406.80" font-size="10.5" text-anchor="end" fill="#4d4d4d" font-weight="normal" >Fire size</text>
<text x="102.60" y="432.80" font-size="10.5" text-anchor="end" fill="#4d4d4d" font-weight="normal" >Soil percent clay</text>
<text x="101.30" y="454.50" font-size="10.5" text-anchor="end" fill="#4d4d4d" font-weight="normal" >Soil percent sand</text>
<text x="54.50" y="495.10" font-size="10.05" text-anchor="end" fill="#4d4d4d" font-weight="normal" >Elevation</text>
<text x="104.50" y="481.90" font-size="9.75" text-anchor="end" fill="#4d4d4d" font-weight="normal" >linear</text>
<text x="104.10" y="504.20" font-size="9.75" text-anchor="end" fill="#4d4d4d" font-weight="normal" >quadratic</text>
<text x="54.00" y="537.10" font-size="10.05" text-anchor="end" fill="#4d4d4d" font-weight="normal" >Distance</text>
<text x="54.00" y="548.80" font-size="10.05" text-anchor="end" fill="#4d4d4d" font-weight="normal" >from road</text>
<text x="103.30" y="534.30" font-size="9.75" text-anchor="end" fill="#4d4d4d" font-weight="normal" >linear</text>
<text x="102.80" y="555.70" font-size="9.75" text-anchor="end" fill="#4d4d4d" font-weight="normal" >quadratic</text>
<path d="M65.30,218.70 H61.70 V252.60 H65.30" fill="none" stroke="#3d3d3d" stroke-width="1.7"/>
<path d="M62.90,295.30 H59.30 V327.50 H62.90" fill="none" stroke="#3d3d3d" stroke-width="1.7"/>
<path d="M62.60,347.00 H59.00 V379.90 H62.60" fill="none" stroke="#3d3d3d" stroke-width="1.7"/>
<path d="M64.10,474.50 H60.50 V507.50 H64.10" fill="none" stroke="#3d3d3d" stroke-width="1.7"/>
<path d="M62.90,526.20 H59.30 V558.90 H62.90" fill="none" stroke="#3d3d3d" stroke-width="1.7"/>
<line x1="512.60" y1="207.40" x2="512.60" y2="571.20" stroke="#e6e6e6" stroke-width="1.0" />
<line x1="531.10" y1="207.40" x2="531.10" y2="571.20" stroke="#e6e6e6" stroke-width="1.0" />
<line x1="549.60" y1="207.40" x2="549.60" y2="571.20" stroke="#e6e6e6" stroke-width="1.0" />
<line x1="568.10" y1="207.40" x2="568.10" y2="571.20" stroke="#e6e6e6" stroke-width="1.0" />
<line x1="586.60" y1="207.40" x2="586.60" y2="571.20" stroke="#e6e6e6" stroke-width="1.0" />
<line x1="605.10" y1="207.40" x2="605.10" y2="571.20" stroke="#e6e6e6" stroke-width="1.0" />
<line x1="623.60" y1="207.40" x2="623.60" y2="571.20" stroke="#e6e6e6" stroke-width="1.0" />
<line x1="642.10" y1="207.40" x2="642.10" y2="571.20" stroke="#e6e6e6" stroke-width="1.0" />
<line x1="660.60" y1="207.40" x2="660.60" y2="571.20" stroke="#e6e6e6" stroke-width="1.0" />
<line x1="679.10" y1="207.40" x2="679.10" y2="571.20" stroke="#e6e6e6" stroke-width="1.0" />
<line x1="497.50" y1="221.20" x2="680.20" y2="221.20" stroke="#e6e6e6" stroke-width="1.0" />
<line x1="497.50" y1="245.20" x2="680.20" y2="245.20" stroke="#e6e6e6" stroke-width="1.0" />
<line x1="497.50" y1="269.20" x2="680.20" y2="269.20" stroke="#e6e6e6" stroke-width="1.0" />
<line x1="497.50" y1="293.20" x2="680.20" y2="293.20" stroke="#e6e6e6" stroke-width="1.0" />
<line x1="497.50" y1="317.20" x2="680.20" y2="317.20" stroke="#e6e6e6" stroke-width="1.0" />
<line x1="497.50" y1="341.20" x2="680.20" y2="341.20" stroke="#e6e6e6" stroke-width="1.0" />
<line x1="497.50" y1="365.20" x2="680.20" y2="365.20" stroke="#e6e6e6" stroke-width="1.0" />
<line x1="497.50" y1="389.20" x2="680.20" y2="389.20" stroke="#e6e6e6" stroke-width="1.0" />
<line x1="497.50" y1="413.20" x2="680.20" y2="413.20" stroke="#e6e6e6" stroke-width="1.0" />
<line x1="497.50" y1="437.20" x2="680.20" y2="437.20" stroke="#e6e6e6" stroke-width="1.0" />
<line x1="497.50" y1="461.20" x2="680.20" y2="461.20" stroke="#e6e6e6" stroke-width="1.0" />
<line x1="497.50" y1="485.20" x2="680.20" y2="485.20" stroke="#e6e6e6" stroke-width="1.0" />
<line x1="497.50" y1="509.20" x2="680.20" y2="509.20" stroke="#e6e6e6" stroke-width="1.0" />
<line x1="497.50" y1="533.20" x2="680.20" y2="533.20" stroke="#e6e6e6" stroke-width="1.0" />
<line x1="497.50" y1="557.20" x2="680.20" y2="557.20" stroke="#e6e6e6" stroke-width="1.0" />
<line x1="605.10" y1="207.40" x2="605.10" y2="571.20" stroke="#999" stroke-width="2.7" stroke-dasharray="2.6 7.9" stroke-dashoffset="5.6"/>
<polygon points="605.10,218.89 611.43,229.85 598.77,229.85" fill="#8c8c8c" stroke="#8c8c8c" stroke-width="0.9" stroke-linejoin="round"/>
<line x1="545.10" y1="216.70" x2="592.40" y2="216.70" stroke="#3a3a88" stroke-width="1.8" />
<circle cx="572.10" cy="216.70" r="5.2" fill="#3a3a88"/>
<line x1="506.30" y1="245.20" x2="602.20" y2="245.20" stroke="#3a3a88" stroke-width="1.8" />
<circle cx="569.90" cy="245.20" r="5.2" fill="#3a3a88"/>
<line x1="513.00" y1="269.20" x2="614.60" y2="269.20" stroke="#3a3a88" stroke-width="1.8" />
<polygon points="581.00,261.89 587.33,272.85 574.67,272.85" fill="#3a3a88" stroke="#3a3a88" stroke-width="0.9" stroke-linejoin="round"/>
<line x1="514.10" y1="293.20" x2="620.50" y2="293.20" stroke="#3a3a88" stroke-width="1.8" />
<polygon points="583.80,285.89 590.13,296.85 577.47,296.85" fill="#3a3a88" stroke="#3a3a88" stroke-width="0.9" stroke-linejoin="round"/>
<line x1="514.90" y1="317.20" x2="630.70" y2="317.20" stroke="#3a3a88" stroke-width="1.8" />
<polygon points="591.30,309.89 597.63,320.85 584.97,320.85" fill="#3a3a88" stroke="#3a3a88" stroke-width="0.9" stroke-linejoin="round"/>
<line x1="519.30" y1="341.20" x2="616.30" y2="341.20" stroke="#3a3a88" stroke-width="1.8" />
<polygon points="582.70,333.89 589.03,344.85 576.37,344.85" fill="#3a3a88" stroke="#3a3a88" stroke-width="0.9" stroke-linejoin="round"/>
<line x1="511.30" y1="365.20" x2="608.00" y2="365.20" stroke="#3a3a88" stroke-width="1.8" />
<polygon points="575.40,357.89 581.73,368.85 569.07,368.85" fill="#3a3a88" stroke="#3a3a88" stroke-width="0.9" stroke-linejoin="round"/>
<line x1="515.70" y1="389.20" x2="622.40" y2="389.20" stroke="#3a3a88" stroke-width="1.8" />
<polygon points="585.70,381.89 592.03,392.85 579.37,392.85" fill="#3a3a88" stroke="#3a3a88" stroke-width="0.9" stroke-linejoin="round"/>
<polygon points="605.10,410.89 611.43,421.85 598.77,421.85" fill="#8c8c8c" stroke="#8c8c8c" stroke-width="0.9" stroke-linejoin="round"/>
<line x1="618.10" y1="408.70" x2="664.80" y2="408.70" stroke="#3a3a88" stroke-width="1.8" />
<circle cx="637.90" cy="408.70" r="5.2" fill="#3a3a88"/>
<line x1="519.30" y1="437.20" x2="623.00" y2="437.20" stroke="#3a3a88" stroke-width="1.8" />
<polygon points="586.50,429.89 592.83,440.85 580.17,440.85" fill="#3a3a88" stroke="#3a3a88" stroke-width="0.9" stroke-linejoin="round"/>
<line x1="516.00" y1="461.20" x2="617.40" y2="461.20" stroke="#3a3a88" stroke-width="1.8" />
<polygon points="583.20,453.89 589.53,464.85 576.87,464.85" fill="#3a3a88" stroke="#3a3a88" stroke-width="0.9" stroke-linejoin="round"/>
<polygon points="605.10,482.89 611.43,493.85 598.77,493.85" fill="#8c8c8c" stroke="#8c8c8c" stroke-width="0.9" stroke-linejoin="round"/>
<line x1="605.60" y1="480.70" x2="652.90" y2="480.70" stroke="#3a3a88" stroke-width="1.8" />
<circle cx="625.90" cy="480.70" r="5.2" fill="#3a3a88"/>
<polygon points="605.10,506.89 611.43,517.85 598.77,517.85" fill="#8c8c8c" stroke="#8c8c8c" stroke-width="0.9" stroke-linejoin="round"/>
<line x1="614.50" y1="504.70" x2="661.20" y2="504.70" stroke="#3a3a88" stroke-width="1.8" />
<circle cx="634.50" cy="504.70" r="5.2" fill="#3a3a88"/>
<polygon points="605.10,530.89 611.43,541.85 598.77,541.85" fill="#8c8c8c" stroke="#8c8c8c" stroke-width="0.9" stroke-linejoin="round"/>
<line x1="625.00" y1="528.70" x2="671.80" y2="528.70" stroke="#3a3a88" stroke-width="1.8" />
<circle cx="644.80" cy="528.70" r="5.2" fill="#3a3a88"/>
<polygon points="605.10,554.89 611.43,565.85 598.77,565.85" fill="#8c8c8c" stroke="#8c8c8c" stroke-width="0.9" stroke-linejoin="round"/>
<line x1="617.20" y1="552.70" x2="664.60" y2="552.70" stroke="#3a3a88" stroke-width="1.8" />
<circle cx="637.00" cy="552.70" r="5.2" fill="#3a3a88"/>
<rect x="497.5" y="207.4" width="182.70000000000005" height="363.80000000000007" fill="none" stroke="#444444" stroke-width="1"/>
<line x1="494.00" y1="221.20" x2="497.50" y2="221.20" stroke="#333333" stroke-width="1.2" />
<line x1="494.00" y1="245.20" x2="497.50" y2="245.20" stroke="#333333" stroke-width="1.2" />
<line x1="494.00" y1="269.20" x2="497.50" y2="269.20" stroke="#333333" stroke-width="1.2" />
<line x1="494.00" y1="293.20" x2="497.50" y2="293.20" stroke="#333333" stroke-width="1.2" />
<line x1="494.00" y1="317.20" x2="497.50" y2="317.20" stroke="#333333" stroke-width="1.2" />
<line x1="494.00" y1="341.20" x2="497.50" y2="341.20" stroke="#333333" stroke-width="1.2" />
<line x1="494.00" y1="365.20" x2="497.50" y2="365.20" stroke="#333333" stroke-width="1.2" />
<line x1="494.00" y1="389.20" x2="497.50" y2="389.20" stroke="#333333" stroke-width="1.2" />
<line x1="494.00" y1="413.20" x2="497.50" y2="413.20" stroke="#333333" stroke-width="1.2" />
<line x1="494.00" y1="437.20" x2="497.50" y2="437.20" stroke="#333333" stroke-width="1.2" />
<line x1="494.00" y1="461.20" x2="497.50" y2="461.20" stroke="#333333" stroke-width="1.2" />
<line x1="494.00" y1="485.20" x2="497.50" y2="485.20" stroke="#333333" stroke-width="1.2" />
<line x1="494.00" y1="509.20" x2="497.50" y2="509.20" stroke="#333333" stroke-width="1.2" />
<line x1="494.00" y1="533.20" x2="497.50" y2="533.20" stroke="#333333" stroke-width="1.2" />
<line x1="494.00" y1="557.20" x2="497.50" y2="557.20" stroke="#333333" stroke-width="1.2" />
<line x1="531.10" y1="571.20" x2="531.10" y2="574.70" stroke="#333333" stroke-width="1.2" />
<text x="531.10" y="584.40" font-size="9.0" text-anchor="middle" fill="#4d4d4d" font-weight="normal" >−10</text>
<line x1="568.10" y1="571.20" x2="568.10" y2="574.70" stroke="#333333" stroke-width="1.2" />
<text x="568.10" y="584.40" font-size="9.0" text-anchor="middle" fill="#4d4d4d" font-weight="normal" >−5</text>
<line x1="605.10" y1="571.20" x2="605.10" y2="574.70" stroke="#333333" stroke-width="1.2" />
<text x="605.10" y="584.40" font-size="9.0" text-anchor="middle" fill="#4d4d4d" font-weight="normal" >0</text>
<line x1="642.10" y1="571.20" x2="642.10" y2="574.70" stroke="#333333" stroke-width="1.2" />
<text x="642.10" y="584.40" font-size="9.0" text-anchor="middle" fill="#4d4d4d" font-weight="normal" >5</text>
<line x1="679.10" y1="571.20" x2="679.10" y2="574.70" stroke="#333333" stroke-width="1.2" />
<text x="679.10" y="584.40" font-size="9.0" text-anchor="middle" fill="#4d4d4d" font-weight="normal" >10</text>
<text x="588.90" y="595.60" font-size="9.4" text-anchor="middle" fill="#000" font-weight="normal" >Effect on probability</text>
<text x="588.90" y="604.40" font-size="9.4" text-anchor="middle" fill="#000" font-weight="normal" >of receiving seeding</text>
<text x="491.00" y="224.80" font-size="9.4" text-anchor="end" fill="#4d4d4d" font-weight="normal" >Intercept</text>
<text x="491.00" y="247.90" font-size="10.38" text-anchor="end" fill="#4d4d4d" font-weight="normal" >Blue Mountains</text>
<text x="491.00" y="273.60" font-size="10.38" text-anchor="end" fill="#4d4d4d" font-weight="normal" >Columbia Plateau</text>
<text x="491.00" y="295.20" font-size="10.38" text-anchor="end" fill="#4d4d4d" font-weight="normal" >Eastern Cascades</text>
<text x="491.00" y="306.30" font-size="10.38" text-anchor="end" fill="#4d4d4d" font-weight="normal" >Foothills</text>
<text x="491.00" y="322.60" font-size="10.38" text-anchor="end" fill="#4d4d4d" font-weight="normal" >High Plains</text>
<text x="491.00" y="346.20" font-size="10.38" text-anchor="end" fill="#4d4d4d" font-weight="normal" >Middle Rockies</text>
<text x="491.00" y="369.30" font-size="10.38" text-anchor="end" fill="#4d4d4d" font-weight="normal" >NW Great Plains</text>
<text x="491.00" y="394.00" font-size="10.38" text-anchor="end" fill="#4d4d4d" font-weight="normal" >Sierra Nevada</text>
<text x="491.00" y="413.70" font-size="10.38" text-anchor="end" fill="#4d4d4d" font-weight="normal" >Central Basin</text>
<text x="491.00" y="424.80" font-size="10.38" text-anchor="end" fill="#4d4d4d" font-weight="normal" >and Range</text>
<text x="491.00" y="442.30" font-size="10.38" text-anchor="end" fill="#4d4d4d" font-weight="normal" >Southern Rockies</text>
<text x="491.00" y="460.50" font-size="10.38" text-anchor="end" fill="#4d4d4d" font-weight="normal" >Wasatch and</text>
<text x="491.00" y="471.60" font-size="10.38" text-anchor="end" fill="#4d4d4d" font-weight="normal" >Uinta Mountains</text>
<text x="491.00" y="489.80" font-size="10.38" text-anchor="end" fill="#4d4d4d" font-weight="normal" >Idaho Batholith</text>
<text x="491.00" y="508.10" font-size="10.38" text-anchor="end" fill="#4d4d4d" font-weight="normal" >Northern Basin</text>
<text x="491.00" y="519.20" font-size="10.38" text-anchor="end" fill="#4d4d4d" font-weight="normal" >and Range</text>
<text x="491.00" y="537.40" font-size="10.38" text-anchor="end" fill="#4d4d4d" font-weight="normal" >Snake River Plain</text>
<text x="491.00" y="562.50" font-size="10.38" text-anchor="end" fill="#4d4d4d" font-weight="normal" >Wyoming Basin</text>
</svg>
</body></html>
